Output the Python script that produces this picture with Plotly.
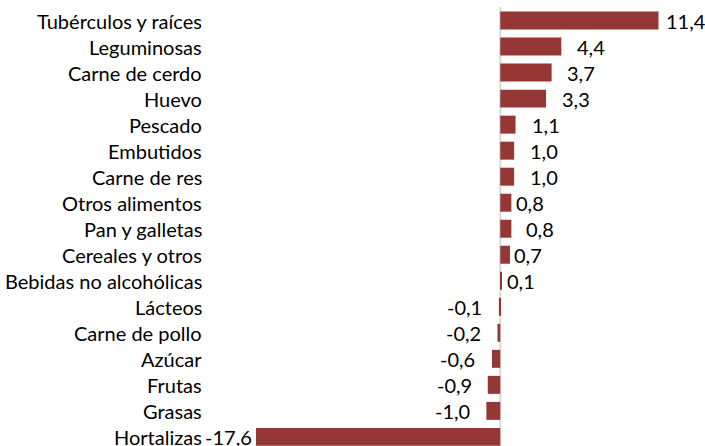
import plotly.graph_objects as go

categories = ["Tubérculos y raíces", "Leguminosas", "Carne de cerdo", "Huevo", "Pescado",
              "Embutidos", "Carne de res", "Otros alimentos", "Pan y galletas",
              "Cereales y otros", "Bebidas no alcohólicas", "Lácteos", "Carne de pollo",
              "Azúcar", "Frutas", "Grasas", "Hortalizas"]
values = [11.4, 4.4, 3.7, 3.3, 1.1, 1.0, 1.0, 0.8, 0.8, 0.7, 0.1, -0.1, -0.2, -0.6, -0.9, -1.0, -17.6]
value_labels = ["11,4", "4,4", "3,7", "3,3", "1,1", "1,0", "1,0", "0,8", "0,8", "0,7", "0,1",
                "-0,1", "-0,2", "-0,6", "-0,9", "-1,0", "-17,6"]

# label pixel offsets from bar end (style)
label_shift = [5, 14, 13, 14, 14, 14, 14, 3, 13, 2, 3,
               -15, -14, -15, -14, -14, -2]

FONT = "Lato"
FS = 20
BAR = "#953735"

idx = list(range(len(categories)))
fig = go.Figure(go.Bar(
    x=values, y=idx, orientation="h",
    marker=dict(color=BAR, line=dict(width=0)),
    width=0.69, hoverinfo="skip"))

annotations = []
for i, (c, v, t, s) in enumerate(zip(categories, values, value_labels, label_shift)):
    annotations.append(dict(x=-21.56, y=i, xref="x", yref="y", text=c, showarrow=False,
                            xanchor="right", yanchor="middle", xshift=3,
                            font=dict(family=FONT, size=FS, color="#000000")))
    annotations.append(dict(x=v, y=i, xref="x", yref="y", text=t, showarrow=False,
                            xanchor="left" if v >= 0 else "right", yanchor="middle",
                            xshift=s, font=dict(family=FONT, size=FS, color="#000000")))

fig.update_layout(
    width=705, height=446,
    margin=dict(l=0, r=0, t=0, b=0),
    paper_bgcolor="white", plot_bgcolor="white",
    showlegend=False,
    xaxis=dict(range=[-36.04, 14.75], visible=False, fixedrange=True),
    yaxis=dict(range=[16.35, -0.79], visible=False, fixedrange=True),
    annotations=annotations,
    shapes=[dict(type="line", xref="x", yref="y", x0=0, x1=0, y0=-0.52, y1=16.6,
                 line=dict(color="#d9d9d9", width=2), layer="below")],
)

fig.write_html("out.html", config={"displayModeBar": False},
               post_script="document.body.style.margin='0';document.body.style.overflow='hidden';")
